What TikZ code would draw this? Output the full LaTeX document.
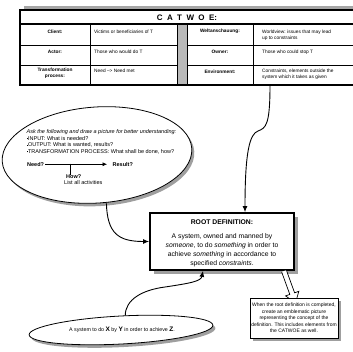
\documentclass[tikz,border=0pt]{standalone}
\usepackage{fontspec}
\setmainfont{Liberation Sans}
\usetikzlibrary{arrows.meta,shapes.geometric,shadows}

% small square bullet used in the question list
\newcommand\sqbul{\rule[0.6pt]{1.4pt}{1.4pt}}
\newcommand\tgap{\hspace{4.4pt}}

\tikzset{
  frame/.style={line width=1.1pt},
  grid/.style={line width=0.7pt},
  cellhead/.style={font=\fontsize{4.8}{5.8}\selectfont\bfseries, inner sep=0pt, align=center},
  cellbody/.style={font=\fontsize{4.8}{5.8}\selectfont, inner sep=0pt, align=left, anchor=base west},
  bubble/.style={ellipse, draw, line width=0.8pt, fill=white, inner sep=0pt,
    drop shadow={shadow xshift=2.5pt, shadow yshift=-3pt, fill=gray!75, opacity=1}},
  bubbletext/.style={font=\fontsize{5.5}{6.5}\selectfont, inner sep=0pt},
  flow/.style={line width=0.9pt, -{Latex[length=6pt,width=5pt]}},
}

\begin{document}
\begin{tikzpicture}[x=1pt,y=-1pt]
\useasboundingbox (0,0) rectangle (353,351);

% ---------------- CATWOE table ----------------
\fill[gray!70] (24,6) rectangle (353,10);
\fill[white] (20,10) rectangle (353,85);
\fill[gray!55] (177,24) rectangle (187,85);
\draw[grid] (20,45) -- (177,45) (187,45) -- (353,45);
\draw[grid] (20,65) -- (177,65) (187,65) -- (353,65);
\draw[grid] (90,24) -- (90,85);
\draw[grid] (177,24) -- (177,85) (187,24) -- (187,85);
\draw[grid] (253,24) -- (253,85);
\draw[frame] (20,24) -- (353,24);
\draw[frame] (353,10) -- (20,10) -- (20,85) -- (353,85);

\node[font=\fontsize{8}{9}\selectfont\bfseries, inner sep=0pt] (catwoe) at (187,17.5)
  {C\tgap A\tgap T\tgap W\tgap O\tgap E:};

\node[cellhead] (client) at (55,31.7) {Client:};
\node[cellhead] (actor) at (55,51.7) {Actor:};
\node[cellhead] (transf) at (55,73.4) {Transformation\\process:};
\node[cellhead] (welt) at (220,31.7) {Weltanschauung:};
\node[cellhead] (owner) at (220,51.7) {Owner:};
\node[cellhead] (env) at (220,71.5) {Environment:};

% multi-line cells are placed by the baseline of their last line
\node[cellbody] (clientv) at (94,33.4) {Victims or beneficiaries of T};
\node[cellbody] (actorv) at (94,53.4) {Those who would do T};
\node[cellbody] (transfv) at (94,72.4) {Need --> Need met};
\node[cellbody] (weltv) at (262,39.6) {Worldview: issues that may lead\\up to constraints};
\node[cellbody] (ownerv) at (262,53.4) {Those who could stop T};
\node[cellbody] (envv) at (262,78.4) {Constraints, elements outside the\\system which it takes as given};

\coordinate (envfoot) at (270,85);

% ---------------- question bubble ----------------
\node[bubble, minimum width=190pt, minimum height=96pt, rotate=4] (askell) at (97,155) {};
\node[bubbletext, align=left, anchor=base west] (asklist) at (26.5,153)
  {\textit{Ask the following and draw a picture for better understanding:}\\
   \sqbul INPUT: What is needed?\\
   \sqbul OUTPUT: What is wanted, results?\\
   \sqbul TRANSFORMATION PROCESS: What shall be done, how?};
\node[bubbletext, font=\fontsize{5.5}{6.5}\selectfont\bfseries, anchor=base west] (need) at (27,166.2) {Need?};
\node[bubbletext, font=\fontsize{5.5}{6.5}\selectfont\bfseries, anchor=base west] (result) at (112.5,166.2) {Result?};
\draw[line width=0.6pt, -{Latex[length=4.5pt,width=4pt]}, shorten <=1.2pt, shorten >=5.5pt]
  (need.east) -- (result.west);
\coordinate (howtick) at (70,163.5);
\node[bubbletext, font=\fontsize{5.5}{6.5}\selectfont\bfseries, anchor=base west] (how) at (66,178.6) {How?};
\node[bubbletext, anchor=base west] (acts) at (64,184.6) {List all activities};
\draw[line width=0.6pt] (howtick) -- (how.north -| howtick);

% ---------------- root definition ----------------
\node[draw, line width=1.8pt, fill=white, minimum width=144pt, minimum height=57pt,
  inner sep=0pt,
  drop shadow={shadow xshift=4pt, shadow yshift=-4pt, fill=gray!75, opacity=1}] (root) at (222,241.5) {};
\node[inner sep=0pt, align=center, font=\fontsize{6.8}{9}\selectfont] (roottext) at (222,243.3)
  {\textbf{ROOT DEFINITION:}\\[4.5pt]
   A system, owned and manned by\\
   \textit{someone}, to do \textit{something} in order to\\
   achieve \textit{something} in accordance to\\
   specified \textit{constraints}.};

% open block arrow towards the note
\draw[line width=0.7pt, fill=white, line join=miter]
  (281.6,271.8) -- (289.8,294.4) -- (285.6,295.9) -- (295.5,303)
  -- (298.8,291.3) -- (294.6,292.8) -- (286.4,270.2);

% ---------------- note ----------------
\node[draw, line width=0.8pt, fill=white, minimum width=88pt, minimum height=40pt,
  inner sep=0pt, align=center, font=\fontsize{5}{6.5}\selectfont,
  drop shadow={shadow xshift=3pt, shadow yshift=-3pt, fill=gray!75, opacity=1}] (note) at (294,318)
  {When the root definition is completed,\\
   create an emblematic picture\\
   representing the concept of the\\
   definition. This includes elements from\\
   the CATWOE as well.};

% ---------------- formula bubble ----------------
\node[bubble, minimum width=184pt, minimum height=28pt, rotate=3] (sysell) at (121,330) {};
\node[bubbletext, font=\fontsize{5.3}{6.5}\selectfont] (systext) at (122,330)
  {A system to do \textbf{\fontsize{6.5}{6.5}\selectfont X} by \textbf{\fontsize{6.5}{6.5}\selectfont Y} in order to achieve \textbf{\fontsize{6.5}{6.5}\selectfont Z}.};

% ---------------- connectors ----------------
\draw[flow] (envfoot) .. controls (270,125) and (266,128) .. (258,131)
  .. controls (250,134) and (245,150) .. ([xshift=23pt]root.north);
\draw[flow] ([xshift=6pt]askell.south) .. controls +(1,30) and (118,241.5) .. (root.west);
\draw[flow] ([xshift=5pt]sysell.north) .. controls +(0,-16) and (142,290) .. (165,287)
  .. controls (192,283) and (201,281) .. ([xshift=-19pt]root.south);
\end{tikzpicture}
\end{document}
